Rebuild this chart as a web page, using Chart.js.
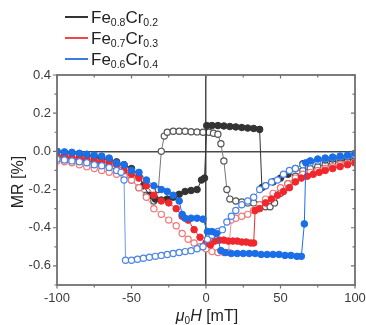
<!DOCTYPE html>
<html>
<head>
<meta charset="utf-8">
<script src="https://cdn.jsdelivr.net/npm/chart.js@4/dist/chart.umd.min.js"></script>
<style>
  body { margin: 0; background: #fff; }
  #wrap { position: relative; width: 366px; height: 325px; }
</style>
</head>
<body>
<div id="wrap"><canvas id="mrChart"></canvas></div>
<script>
// ---- data (field in mT, MR in %) ----
const fieldTicks = [-100, -50, 0, 50, 100];
const mrTicks = [-0.6, -0.4, -0.2, 0.0, 0.2, 0.4];

const legendNames = [['Fe', '0.8', 'Cr', '0.2'], ['Fe', '0.7', 'Cr', '0.3'], ['Fe', '0.6', 'Cr', '0.4']];

// Fe0.8Cr0.2 filled
const blackFilledX = [-100,-95,-90,-85,-80,-75,-70,-65,-60,-55,-50,-45,-42,-38,-34,-30,-26,-22,-18,-14,-10,-6,-3,-1,0.5,4,8,12,16,20,24,28,32,36,37.5,40,45,50,55,60,65,70,75,80,85,90,95,100];
const blackFilledY = [0.0,-0.005,-0.01,-0.015,-0.02,-0.03,-0.035,-0.045,-0.055,-0.07,-0.09,-0.13,-0.18,-0.23,-0.25,-0.255,-0.25,-0.24,-0.225,-0.21,-0.205,-0.2,-0.15,-0.14,0.135,0.135,0.135,0.133,0.13,0.128,0.125,0.122,0.12,0.115,-0.19,-0.18,-0.16,-0.14,-0.12,-0.09,-0.065,-0.055,-0.05,-0.045,-0.04,-0.035,-0.03,-0.025];
// Fe0.8Cr0.2 open
const blackOpenX = [-100,-95,-90,-85,-80,-75,-70,-65,-60,-55,-50,-45,-40,-35,-32,-30,-28,-26,-22,-18,-14,-10,-6,-2,2,5,8,10,12,14,16,20,24,28,32,36,40,43,46,50,55,60,65,70,75,80,85,90,95,100];
const blackOpenY = [-0.03,-0.035,-0.04,-0.045,-0.05,-0.06,-0.07,-0.08,-0.1,-0.12,-0.15,-0.19,-0.23,-0.26,-0.2,0.0,0.08,0.1,0.105,0.105,0.105,0.103,0.102,0.1,0.1,0.095,0.09,0.04,-0.05,-0.2,-0.25,-0.26,-0.265,-0.27,-0.27,-0.28,-0.29,-0.29,-0.27,-0.22,-0.17,-0.13,-0.1,-0.09,-0.08,-0.07,-0.06,-0.05,-0.045,-0.04];

// Fe0.7Cr0.3 filled
const redFilledX = [-100,-95,-90,-85,-80,-75,-70,-65,-60,-55,-50,-45,-40,-35,-30,-25,-20,-16,-12,-8,-4,0,3,6,9,12,15,18,21,24,27,30,32,33,36,40,44,48,52,56,60,64,68,72,76,80,85,90,95,100];
const redFilledY = [-0.02,-0.025,-0.03,-0.035,-0.04,-0.05,-0.055,-0.06,-0.07,-0.1,-0.12,-0.14,-0.18,-0.23,-0.26,-0.27,-0.3,-0.34,-0.36,-0.41,-0.45,-0.48,-0.49,-0.47,-0.465,-0.465,-0.47,-0.47,-0.47,-0.475,-0.475,-0.48,-0.48,-0.31,-0.3,-0.27,-0.25,-0.23,-0.21,-0.19,-0.16,-0.14,-0.13,-0.12,-0.11,-0.1,-0.09,-0.08,-0.07,-0.06];
// Fe0.7Cr0.3 open
const redOpenX = [-100,-95,-90,-85,-80,-75,-70,-65,-60,-55,-50,-45,-40,-35,-30,-25,-20,-16,-12,-8,-4,0,4,8,12,15,17,20,24,28,32,36,40,45,50,55,60,65,70,75,80,85,90,95,100];
const redOpenY = [-0.05,-0.055,-0.06,-0.07,-0.08,-0.09,-0.1,-0.11,-0.12,-0.13,-0.15,-0.19,-0.24,-0.3,-0.33,-0.36,-0.39,-0.43,-0.46,-0.48,-0.5,-0.51,-0.525,-0.53,-0.53,-0.53,-0.36,-0.35,-0.34,-0.33,-0.31,-0.28,-0.25,-0.22,-0.19,-0.17,-0.14,-0.12,-0.11,-0.1,-0.09,-0.08,-0.07,-0.065,-0.06];

// Fe0.6Cr0.4 filled
const blueFilledX = [-100,-95,-90,-85,-80,-75,-70,-65,-60,-55,-50,-45,-40,-35,-30,-26,-22,-18,-16,-14,-10,-6,-2,1,4,7,10,13,17,21,25,29,33,37,41,45,49,53,57,61,64,66,67,70,75,80,85,90,95,100];
const blueFilledY = [0.0,-0.003,-0.005,-0.01,-0.015,-0.02,-0.025,-0.035,-0.06,-0.07,-0.1,-0.11,-0.15,-0.18,-0.2,-0.21,-0.23,-0.26,-0.33,-0.35,-0.35,-0.35,-0.355,-0.42,-0.42,-0.43,-0.52,-0.53,-0.535,-0.535,-0.535,-0.535,-0.535,-0.54,-0.54,-0.54,-0.54,-0.545,-0.545,-0.55,-0.55,-0.38,-0.06,-0.05,-0.04,-0.035,-0.03,-0.025,-0.02,-0.01];
// Fe0.6Cr0.4 open
const blueOpenX = [-100,-95,-90,-85,-80,-75,-70,-65,-60,-57,-55,-54,-50,-46,-42,-38,-34,-30,-26,-22,-18,-14,-10,-6,-2,1,4,8,11,14,17,20,24,28,32,36,40,44,48,52,56,60,65,70,75,80,85,90,95,100];
const blueOpenY = [-0.04,-0.045,-0.05,-0.055,-0.06,-0.07,-0.075,-0.085,-0.1,-0.11,-0.15,-0.57,-0.57,-0.565,-0.56,-0.555,-0.55,-0.545,-0.54,-0.535,-0.53,-0.525,-0.52,-0.51,-0.5,-0.46,-0.44,-0.42,-0.41,-0.37,-0.34,-0.31,-0.28,-0.26,-0.24,-0.2,-0.18,-0.16,-0.15,-0.12,-0.1,-0.09,-0.07,-0.06,-0.05,-0.04,-0.035,-0.03,-0.025,-0.02];

const FONT = "'Liberation Sans', Arial, sans-serif";
const COLORS = ['#333333', '#f0282d', '#1a6ee8'];

const toPts = (xs, ys) => xs.map((x, i) => ({ x, y: ys[i] }));

function filledSet(xs, ys, color, order) {
    return {
        data: toPts(xs, ys),
        showLine: true,
        borderColor: color,
        borderWidth: 1,
        pointRadius: 3.3,
        pointBackgroundColor: color,
        pointBorderColor: color,
        pointBorderWidth: 1,
        order
    };
}
function openSet(xs, ys, color, lineColor, order) {
    return {
        data: toPts(xs, ys),
        showLine: true,
        borderColor: lineColor,
        borderWidth: 1,
        pointRadius: 3.1,
        pointBackgroundColor: '#ffffff',
        pointBorderColor: color,
        pointBorderWidth: 1.2,
        order
    };
}

// frame, ticks, legend and axis titles
const decorPlugin = {
    id: 'decor',
    afterDatasetsDraw(chart) {
        const { ctx, chartArea: a, scales } = chart;
        const xs = scales.x, ys = scales.y;
        ctx.save();
        ctx.strokeStyle = '#707070';
        ctx.lineWidth = 1.8;
        ctx.strokeRect(a.left, a.top, a.right - a.left, a.bottom - a.top);
        ctx.lineWidth = 1.2;
        ctx.beginPath();
        for (let v = -100; v <= 100; v += 25) {
            const px = xs.getPixelForValue(v);
            const len = v % 50 === 0 ? 3.5 : 2.5;
            ctx.moveTo(px, a.bottom); ctx.lineTo(px, a.bottom + len);
            ctx.moveTo(px, a.top); ctx.lineTo(px, a.top + len);
        }
        for (let k = -7; k <= 4; k++) {
            const py = ys.getPixelForValue(k / 10);
            const len = k % 2 === 0 ? 4 : 2.5;
            ctx.moveTo(a.left, py); ctx.lineTo(a.left - len, py);
            ctx.moveTo(a.right, py); ctx.lineTo(a.right - len, py);
        }
        ctx.stroke();
        ctx.restore();
    },
    afterDraw(chart) {
        const { ctx, chartArea: a } = chart;
        ctx.save();
        ctx.fillStyle = '#222';
        ctx.textBaseline = 'alphabetic';
        // legend
        const legendLine = ['#333333', '#f04848', '#3a7be0'];
        legendNames.forEach((parts, i) => {
            const cy = 17 + i * 21;
            ctx.strokeStyle = legendLine[i];
            ctx.lineWidth = 2;
            ctx.beginPath(); ctx.moveTo(65, cy); ctx.lineTo(88, cy); ctx.stroke();
            let x = 91;
            parts.forEach((p, j) => {
                const sub = j % 2 === 1;
                ctx.font = (sub ? '10.5px ' : '17px ') + FONT;
                ctx.fillText(p, x, cy + (sub ? 9 : 6));
                x += ctx.measureText(p).width;
            });
        });
        // x title: mu_0 H [mT]
        const xParts = [['\u03bc', 'italic 16px '], ['0', '10px '], ['H', 'italic 16px '], [' [mT]', '16px ']];
        let w = 0;
        xParts.forEach(([t, f]) => { ctx.font = f + FONT; w += ctx.measureText(t).width; });
        let x = (a.left + a.right) / 2 + 1 - w / 2;
        xParts.forEach(([t, f]) => {
            ctx.font = f + FONT;
            ctx.fillText(t, x, t === '0' ? 324 : 321);
            x += ctx.measureText(t).width;
        });
        // y title
        ctx.translate(23, 182);
        ctx.rotate(-Math.PI / 2);
        ctx.textAlign = 'center';
        ctx.font = '16px ' + FONT;
        ctx.fillText('MR [%]', 0, 0);
        ctx.restore();
    }
};

new Chart(document.getElementById('mrChart'), {
    type: 'scatter',
    data: {
        datasets: [
            filledSet(blueFilledX, blueFilledY, COLORS[2], 1),
            openSet(blueOpenX, blueOpenY, '#4a84e8', '#6a9be8', 2),
            filledSet(redFilledX, redFilledY, COLORS[1], 3),
            openSet(redOpenX, redOpenY, '#f07878', '#f29090', 4),
            filledSet(blackFilledX, blackFilledY, COLORS[0], 5),
            openSet(blackOpenX, blackOpenY, '#555555', '#777777', 6)
        ]
    },
    options: {
        responsive: true,
        maintainAspectRatio: false,
        animation: false,
        layout: { padding: { top: 75, right: 11, left: 0, bottom: 0 } },
        plugins: { legend: { display: false }, tooltip: { enabled: false } },
        scales: {
            x: {
                type: 'linear', min: -100, max: 100,
                afterBuildTicks: s => { s.ticks = fieldTicks.map(v => ({ value: v })); },
                afterFit: s => { s.height = 40; s.paddingLeft = 0; s.paddingRight = 0; },
                ticks: { color: '#3a3a3a', font: { family: FONT, size: 13 }, padding: 6, maxRotation: 0 },
                grid: {
                    drawTicks: false,
                    lineWidth: 1.5,
                    color: c => (c.tick && c.tick.value === 0 ? '#4a4a4a' : 'rgba(0,0,0,0)')
                },
                border: { display: false }
            },
            y: {
                min: -0.7, max: 0.4,
                afterBuildTicks: s => { s.ticks = mrTicks.map(v => ({ value: v })); },
                afterFit: s => { s.width = 57; s.paddingTop = 0; s.paddingBottom = 0; },
                ticks: { color: '#3a3a3a', font: { family: FONT, size: 13 }, padding: 6, callback: v => v.toFixed(1) },
                grid: {
                    drawTicks: false,
                    lineWidth: 1.5,
                    color: c => (c.tick && Math.abs(c.tick.value) < 1e-9 ? '#4a4a4a' : 'rgba(0,0,0,0)')
                },
                border: { display: false }
            }
        }
    },
    plugins: [decorPlugin]
});
</script>
</body>
</html>
